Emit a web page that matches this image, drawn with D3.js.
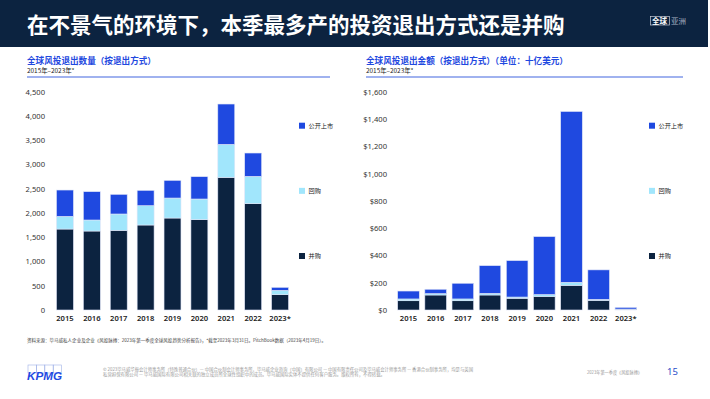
<!DOCTYPE html>
<html>
<head>
<meta charset="utf-8">
<script src="https://cdn.jsdelivr.net/npm/d3@7"></script>
<style>
  body { margin: 0; background: #fff; }
  svg { display: block; font-family: "Noto Sans CJK SC", "Noto Sans", sans-serif; }
</style>
</head>
<body>
<svg width="710" height="399"></svg>
<script>
// data
var years = ["2015", "2016", "2017", "2018", "2019", "2020", "2021", "2022", "2023*"];
var seriesNames = ["并购", "回购", "公开上市"];   // bottom -> top
var legendNames = ["公开上市", "回购", "并购"];   // legend order top -> bottom

// exit counts
var countMA     = [1669, 1628, 1642, 1752, 1896, 1862, 2734, 2192, 316];
var countBuyout = [261, 227, 337, 398, 412, 426, 680, 563, 89];
var countIPO    = [543, 584, 405, 316, 364, 460, 832, 481, 62];
var countTicks  = [0, 500, 1000, 1500, 2000, 2500, 3000, 3500, 4000, 4500];

// exit value ($B)
var valueMA     = [68, 110, 68, 110, 86, 100, 181, 71, 6];
var valueBuyout = [13, 10, 13, 12, 9, 13, 22, 7, 1];
var valueIPO    = [58, 32, 115, 203, 267, 425, 1252, 216, 12];
var valueTicks  = [0, 200, 400, 600, 800, 1000, 1200, 1400, 1600];

var colors = {"并购": "#0c2340", "回购": "#a1e6fc", "公开上市": "#1f49e0"};

var svg = d3.select("svg");

// header band
svg.append("rect").attr("x", 0).attr("y", 0).attr("width", 708).attr("height", 47).attr("fill", "#0c2340");
svg.append("text").attr("x", 27).attr("y", 33).attr("fill", "#fff")
    .attr("font-size", 21.5).attr("font-weight", 700)
    .text("在不景气的环境下，本季最多产的投资退出方式还是并购");
svg.append("rect").attr("x", 650.5).attr("y", 16.5).attr("width", 19).attr("height", 8.5)
    .attr("fill", "none").attr("stroke", "#c8ccd6").attr("stroke-width", 0.7);
svg.append("text").attr("x", 652).attr("y", 23.5).attr("fill", "#fff").attr("font-size", 7.5).attr("font-weight", 700).text("全球");
svg.append("text").attr("x", 671).attr("y", 23.5).attr("fill", "#aab2c2").attr("font-size", 7.5).text("亚洲");

function drawChart(opt){
    var g = svg.append("g");

    g.append("text").attr("x", opt.titleX).attr("y", 64.2).attr("fill", "#1f49e0")
        .attr("font-size", 8.6).attr("font-weight", 700).text(opt.title);
    g.append("text").attr("x", opt.titleX).attr("y", 72.8).attr("fill", "#222")
        .attr("font-size", 6.4).text("2015年–2023年*");
    g.append("line").attr("x1", opt.titleX).attr("x2", opt.lineEnd).attr("y1", 77).attr("y2", 77)
        .attr("stroke", "#8198ea").attr("stroke-width", 1.6);

    var x = d3.scaleBand().domain(years).range(opt.xRange)
        .paddingInner(opt.pad).paddingOuter(opt.pad / 2);
    var y = d3.scaleLinear().domain([0, d3.max(opt.ticks)]).range([310, 91.7]);

    var rows = years.map(function(yr, i){
        return {year: yr, "并购": opt.ma[i], "回购": opt.buyout[i], "公开上市": opt.ipo[i]};
    });
    var stacked = d3.stack().keys(seriesNames)(rows);

    // y axis
    var yAxis = g.append("g").attr("transform", "translate(" + opt.yAxisX + ",0)")
        .call(d3.axisLeft(y).tickValues(opt.ticks).tickSize(0).tickPadding(0).tickFormat(opt.fmt));
    yAxis.select(".domain").remove();
    yAxis.selectAll("text").attr("font-size", 7.6).attr("fill", "#333")
        .attr("font-family", "'Noto Sans', sans-serif");

    // x axis
    var xAxis = g.append("g").attr("transform", "translate(0,316)")
        .call(d3.axisBottom(x).tickSize(0).tickPadding(0));
    xAxis.select(".domain").remove();
    xAxis.selectAll("text").attr("font-size", 7.6).attr("fill", "#222").attr("font-weight", 600)
        .attr("font-family", "'Noto Sans', sans-serif");

    g.selectAll(".layer").data(stacked).enter().append("g")
        .attr("fill", function(d){ return colors[d.key]; })
        .selectAll("rect").data(function(d){ return d; }).enter().append("rect")
        .attr("x", function(d){ return x(d.data.year); })
        .attr("width", x.bandwidth())
        .attr("y", function(d){ return y(d[1]); })
        .attr("height", function(d){ return y(d[0]) - y(d[1]); })
        .attr("stroke", "#dfe5f7").attr("stroke-width", 0.6);

    // legend
    var legY = d3.scalePoint().domain(legendNames).range([125.7, 256]);
    var leg = g.selectAll(".leg").data(legendNames).enter().append("g")
        .attr("transform", function(d){ return "translate(" + opt.legendX + "," + legY(d) + ")"; });
    leg.append("rect").attr("x", -3).attr("y", -3).attr("width", 6).attr("height", 6)
        .attr("fill", function(d){ return colors[d]; });
    leg.append("text").attr("x", 6.5).attr("y", 2.3).attr("font-size", 6.2).attr("fill", "#222").text(function(d){ return d; });
}

drawChart({
    title: "全球风投退出数量（按退出方式）", titleX: 27, lineEnd: 330,
    xRange: [51.5, 293.5], pad: 0.37, yAxisX: 45,
    ticks: countTicks, fmt: d3.format(","),
    ma: countMA, buyout: countBuyout, ipo: countIPO, legendX: 302
});
drawChart({
    title: "全球风投退出金额（按退出方式）（单位：十亿美元）", titleX: 366, lineEnd: 683,
    xRange: [394.9, 639.4], pad: 0.205, yAxisX: 387,
    ticks: valueTicks, fmt: function(d){ return "$" + d3.format(",")(d); },
    ma: valueMA, buyout: valueBuyout, ipo: valueIPO, legendX: 652
});

// footer
svg.append("text").attr("x", 27).attr("y", 342).attr("font-size", 4.6).attr("fill", "#444")
    .attr("textLength", 299).attr("lengthAdjust", "spacingAndGlyphs")
    .text("资料来源：毕马威私人企业及企业《风投脉搏：2023年第一季度全球风投趋势分析报告》，*截至2023年3月31日。PitchBook数据（2023年4月19日）。");

// KPMG logo
var logo = svg.append("g");
logo.selectAll("rect").data([0, 1, 2, 3]).enter().append("rect")
    .attr("x", function(d){ return 28 + d * 8.4; }).attr("y", 365).attr("width", 8.4).attr("height", 8)
    .attr("fill", "none").attr("stroke", "#9fb1e6").attr("stroke-width", 0.6);
logo.append("text").attr("x", 27).attr("y", 380).attr("font-size", 10.5).attr("font-weight", 700)
    .attr("font-style", "italic").attr("fill", "#1e49e2").attr("font-family", "'Liberation Sans', sans-serif")
    .attr("textLength", 35).attr("lengthAdjust", "spacingAndGlyphs").text("KPMG");

svg.append("text").attr("x", 103).attr("y", 370.5).attr("font-size", 4.4).attr("fill", "#9a9a9a")
    .attr("textLength", 370).attr("lengthAdjust", "spacingAndGlyphs")
    .text("© 2023毕马威华振会计师事务所（特殊普通合伙）— 中国合伙制会计师事务所，毕马威企业咨询（中国）有限公司 — 中国有限责任公司及毕马威会计师事务所 — 香港合伙制事务所，均是与英国");
svg.append("text").attr("x", 103).attr("y", 375.5).attr("font-size", 4.4).attr("fill", "#9a9a9a")
    .attr("textLength", 282).attr("lengthAdjust", "spacingAndGlyphs")
    .text("私营担保有限公司 — 毕马威国际有限公司相关联的独立成员所全球性组织中的成员。毕马威国际实体不提供任何客户服务。版权所有，不得转载。");

svg.append("text").attr("x", 587).attr("y", 373.5).attr("font-size", 4.6).attr("fill", "#9a9a9a")
    .attr("textLength", 55).attr("lengthAdjust", "spacingAndGlyphs").text("2023年第一季度《风投脉搏》");
svg.append("text").attr("x", 667).attr("y", 375).attr("font-size", 9.5).attr("fill", "#2a4dc9")
    .attr("font-family", "'Noto Sans', sans-serif").text("15");
</script>
</body>
</html>
